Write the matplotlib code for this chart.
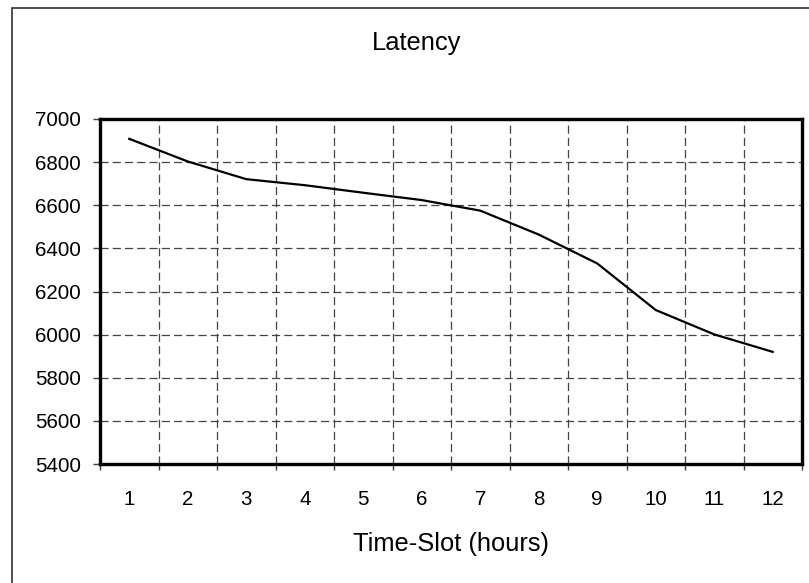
import numpy as np
import matplotlib.pyplot as plt
from matplotlib.patches import Rectangle

# 数据
slots = [1, 2, 3, 4, 5, 6, 7, 8, 9, 10, 11, 12]
latency = [6908, 6803, 6721, 6693, 6658, 6624, 6575, 6464, 6330, 6114, 6001, 5920]
yticks = list(range(5400, 7001, 200))

plt.rcParams['font.family'] = ['Liberation Sans', 'DejaVu Sans']

fig = plt.figure(figsize=(8.09, 5.83), dpi=100)
W, H = 809, 583
ax = fig.add_axes([100/W, 1-464/H, 702/W, 345/H])

# 类别轴：点画在每格中间
x = np.arange(len(slots))
ax.plot(x, latency, color='black', lw=1.6)
ax.set_xlim(-0.5, len(slots)-0.5)
ax.set_ylim(5400, 7000)

# 刻度线在格子边界，标签在格子中间
ax.set_xticks(np.arange(len(slots)+1)-0.5)
ax.set_xticklabels([])
ax.set_xticks(x, minor=True)
ax.set_xticklabels([str(s) for s in slots], minor=True, fontsize=14.8)
ax.tick_params(axis='x', which='major', direction='out', length=4, width=1, color='#404040')
ax.tick_params(axis='x', which='minor', length=0, pad=19)
ax.set_yticks(yticks)
ax.set_yticklabels([str(v) for v in yticks], fontsize=14.8)
ax.tick_params(axis='y', direction='out', length=5, width=1, color='#404040', pad=8.5)

# 虚线网格
ax.grid(True, which='major', color='#444444', lw=0.9, ls=(0, (6.5, 3.3)))
for s in ax.spines.values():
    s.set_linewidth(2.4)
    s.set_color('black')

# 标题和x轴标签
fig.text(417/W, 1-50/H, 'Latency', fontsize=18.4, ha='center', va='baseline')
fig.text(451/W, 1-551/H, 'Time-Slot (hours)', fontsize=18.4, ha='center', va='baseline')

# 外框（右边和下边在图片外）
fig.add_artist(Rectangle((12/W, -0.2), 1.2, 1.2-8/H, transform=fig.transFigure,
                         fill=False, ec='#404040', lw=1.3, clip_on=False))

plt.savefig('out.png', dpi=100)
